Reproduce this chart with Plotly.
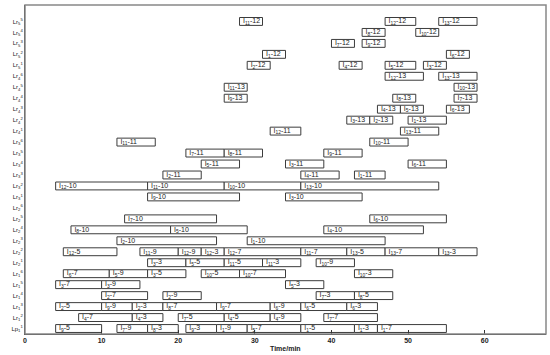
import plotly.graph_objects as go

# y-axis rows (bottom to top)
row_labels = ["Lp<sub>1</sub><sup>1</sup>"] + ["Lr<sub>%d</sub><sup>%d</sup>" % (1 + i // 6, i % 6 + 1) for i in range(1, 29)]

# bars: row index, job, operation, start, end (minutes)
rows = [28, 28, 28,
        27, 27,
        26, 26,
        25, 25,
        24, 24, 24, 24,
        23, 23,
        22, 22,
        21, 21, 21,
        20, 20, 20,
        19, 19, 19,
        18, 18,
        17, 17,
        16, 16, 16,
        15, 15, 15,
        14, 14, 14,
        13, 13, 13, 13,
        12, 12,
        10, 10,
        9, 9, 9,
        8, 8,
        7, 7, 7, 7, 7, 7, 7, 7, 7,
        6, 6, 6, 6, 6,
        5, 5, 5, 5, 5, 5,
        4, 4, 4,
        3, 3, 3, 3,
        2, 2, 2, 2, 2, 2, 2, 2,
        1, 1, 1, 1, 1, 1,
        0, 0, 0, 0, 0, 0, 0, 0, 0]
jobs = [11, 12, 13,
        8, 10,
        7, 9,
        1, 6,
        2, 4, 5, 3,
        12, 13,
        11, 10,
        9, 8, 7,
        4, 5, 6,
        3, 2, 1,
        12, 13,
        11, 10,
        7, 8, 9,
        5, 3, 6,
        2, 4, 1,
        12, 11, 10, 13,
        9, 3,
        7, 6,
        8, 5, 4,
        2, 1,
        12, 11, 12, 12, 12, 11, 13, 13, 13,
        3, 5, 11, 11, 10,
        6, 5, 3, 10, 10, 10,
        3, 3, 5,
        2, 2, 7, 8,
        2, 9, 2, 8, 9, 6, 6, 6,
        4, 4, 7, 4, 4, 7,
        9, 7, 8, 9, 1, 5, 1, 1, 1]
ops = [12, 12, 12,
       12, 12,
       12, 12,
       12, 12,
       12, 12, 12, 12,
       13, 13,
       13, 13,
       13, 13, 13,
       13, 13, 13,
       13, 13, 13,
       11, 11,
       11, 11,
       11, 11, 11,
       11, 11, 11,
       11, 11, 11,
       10, 10, 10, 10,
       10, 10,
       10, 10,
       10, 10, 10,
       10, 10,
       5, 9, 9, 3, 7, 7, 5, 7, 3,
       3, 5, 5, 3, 9,
       7, 9, 5, 5, 7, 3,
       7, 9, 3,
       7, 9, 3, 5,
       5, 9, 3, 7, 7, 9, 5, 3,
       7, 3, 5, 5, 9, 7,
       5, 9, 3, 3, 9, 7, 5, 3, 7]
starts = [28, 47, 54,
          44, 51,
          40, 44,
          31, 55,
          29, 41, 47, 52,
          47, 54,
          26, 56,
          26, 48, 56,
          46, 49, 55,
          42, 45, 50,
          32, 49,
          12, 45,
          21, 26, 39,
          23, 34, 50,
          18, 36, 43,
          4, 16, 26, 36,
          16, 34,
          13, 45,
          6, 19, 39,
          12, 29,
          5, 15, 20, 23, 26, 36, 42, 47, 54,
          16, 21, 26, 31, 38,
          5, 11, 16, 23, 28, 43,
          4, 10, 34,
          10, 18, 38, 43,
          4, 10, 14, 18, 25, 32, 36, 42,
          7, 14, 20, 26, 32, 39,
          4, 12, 16, 21, 25, 29, 36, 43, 46]
ends = [31, 51, 59,
        47, 54,
        43, 47,
        34, 58,
        32, 44, 51, 55,
        52, 59,
        29, 59,
        29, 51, 59,
        49, 52, 58,
        45, 48, 55,
        36, 54,
        17, 50,
        26, 31, 44,
        28, 39, 55,
        23, 41, 47,
        16, 26, 36, 54,
        28, 44,
        25, 55,
        19, 29, 52,
        25, 47,
        12, 20, 23, 26, 36, 42, 47, 54, 59,
        21, 26, 31, 36, 43,
        11, 16, 21, 28, 34, 48,
        10, 15, 39,
        16, 23, 43, 48,
        10, 14, 18, 25, 32, 36, 42, 46,
        14, 18, 26, 32, 36, 46,
        10, 16, 20, 25, 29, 36, 43, 46, 55]
x_ticks = [0, 10, 20, 30, 40, 50, 60]
x_ticktext = ["<b>%d</b>" % v for v in x_ticks]

durations = [e - s for s, e in zip(starts, ends)]
bar_text = ["I<sub>%d</sub>-%d" % (j, o) for j, o in zip(jobs, ops)]

fig = go.Figure()
fig.add_trace(go.Bar(
    orientation="h", y=rows, x=durations, base=starts, width=0.72,
    marker=dict(color="white", line=dict(color="#3c3c3c", width=1)),
    hoverinfo="skip", showlegend=False))
fig.add_trace(go.Scatter(
    x=[s + 0.45 for s in starts], y=rows, mode="text", text=bar_text,
    textposition="middle right",
    textfont=dict(size=7, color="#222222", family="Liberation Sans"),
    hoverinfo="skip", showlegend=False))

fig.update_layout(
    width=550, height=355,
    margin=dict(l=25, r=4, t=5, b=21),
    paper_bgcolor="white", plot_bgcolor="white",
    barmode="overlay",
    font=dict(family="Liberation Sans", color="#222222"),
    xaxis=dict(range=[0, 68], tickvals=x_ticks, ticktext=x_ticktext,
               ticks="inside", ticklen=4,
               tickcolor="#333", showgrid=False, zeroline=False,
               showline=True, linecolor="#333", linewidth=1,
               tickfont=dict(size=7, family="Liberation Sans")),
    yaxis=dict(range=[-0.5, 29.5], tickvals=list(range(len(row_labels))),
               ticktext=row_labels, showgrid=False, zeroline=False,
               showline=True, linecolor="#333", linewidth=1, ticks="",
               tickfont=dict(size=6, family="Liberation Sans")),
    shapes=[dict(type="rect", xref="paper", yref="paper", x0=0, y0=0, x1=1, y1=1,
                 line=dict(color="#888888", width=1.5), layer="above")],
    annotations=[dict(text="<b>Time/min</b>", xref="paper", yref="paper",
                      x=0.5, y=-0.043, xanchor="center", yanchor="middle",
                      showarrow=False, font=dict(size=7, color="#222222"))],
)
fig.write_html("out.html", config={"displayModeBar": False},
               post_script="document.body.style.margin='0';")
